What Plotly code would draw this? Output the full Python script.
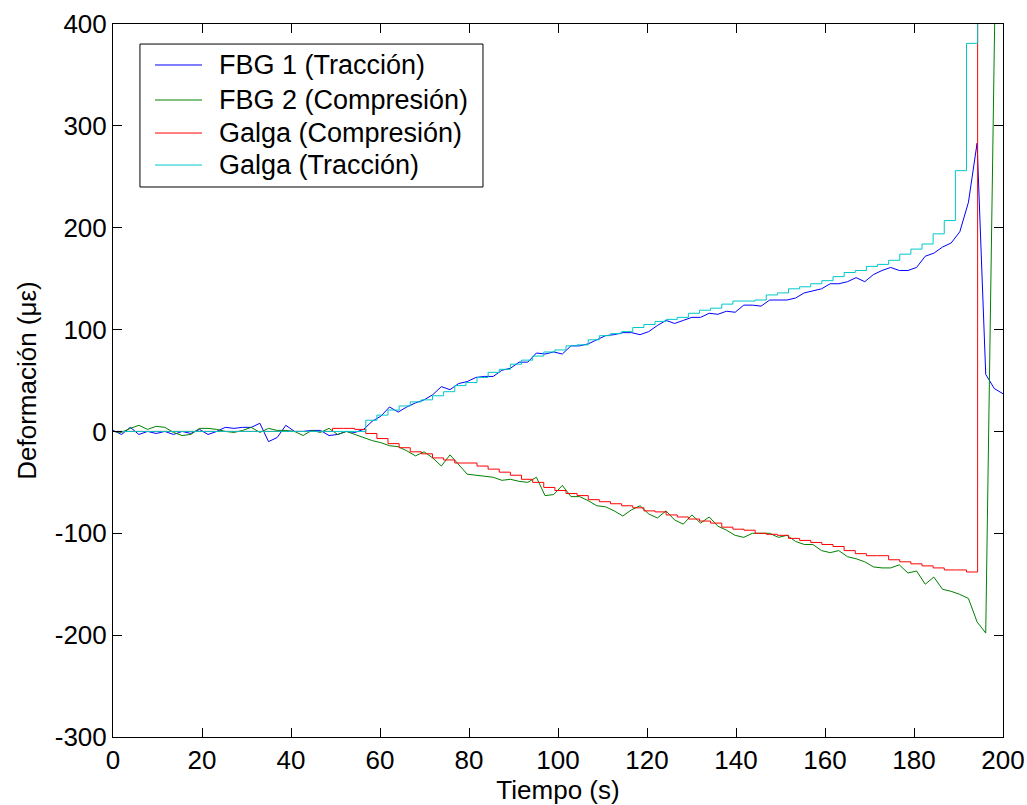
import numpy as np
import plotly.graph_objects as go

# FBG sampling grid (s)
fbg_t = np.linspace(0, 200, 104)

fbg1_traccion = [1, -3, 4, -3, 0, -2, 0, -3, 0, -2, 2, -3, 0, 4, 3, 4, 4, 8, -10, -6,
                 6, 0, 0, 1, 1, -4, -3, 0, -1, 2, 10, 15, 24, 19, 24, 28, 31, 36, 44, 41,
                 47, 49, 53, 54, 54, 60, 62, 68, 68, 77, 76, 78, 76, 84, 84, 86, 90, 94, 95, 97,
                 97, 95, 98, 104, 109, 106, 109, 112, 112, 116, 115, 118, 117, 124, 124, 123, 129, 129, 129, 131,
                 136, 138, 140, 145, 145, 147, 151, 147, 154, 158, 161, 158, 158, 161, 172, 175, 181, 185, 196, 225,
                 283, 56, 42, 37]

fbg2_compresion = [0, -1, 3, 6, 2, 5, 4, -1, -4, -3, 3, 3, 2, 0, -1, 1, 4, -1, 3, 1,
                   1, 0, -4, 1, -1, 3, -3, 0, -3, -6, -9, -11, -14, -15, -19, -24, -20, -26, -34, -23,
                   -32, -42, -43, -44, -45, -48, -47, -49, -50, -45, -63, -62, -53, -64, -64, -68, -73, -74, -78, -83,
                   -77, -73, -81, -85, -78, -87, -91, -82, -90, -84, -93, -97, -102, -104, -100, -100, -100, -104, -102, -108,
                   -111, -111, -117, -119, -117, -123, -125, -128, -133, -134, -134, -131, -139, -137, -150, -143, -155, -157, -160, -164,
                   -187, -198, 380, 960]

# Strain-gauge sampling grid (s)
galga_t = np.concatenate([[0.0], 1.8 + 2.5 * np.arange(80)])

galga_compresion = [0] + [0] * 19 + [3, 3, 2, -2, -7, -12, -16, -20, -22, -26,
                    -28, -31, -31, -34, -37, -40, -43, -47, -50, -55,
                    -58, -61, -63, -67, -69, -71, -73, -75, -78, -79,
                    -82, -84, -86, -88, -90, -94, -96, -97, -100, -101,
                    -102, -105, -107, -109, -111, -113, -117, -120, -122, -122,
                    -126, -128, -130, -132, -134, -136, -136, -138, 1200, 1200, 1200]

galga_traccion = [0] + [0] * 22 + [11, 16, 21, 25, 29, 31, 35, 39, 45, 48,
                  53, 58, 61, 66, 70, 74, 78, 80, 84, 85,
                  90, 94, 96, 98, 102, 105, 108, 110, 112, 116,
                  119, 121, 125, 128, 128, 129, 134, 136, 140, 142,
                  145, 148, 152, 156, 158, 162, 164, 168, 174, 179,
                  184, 194, 207, 256, 381, 1200, 1200, 1200]

x_ticks = [0, 20, 40, 60, 80, 100, 120, 140, 160, 180, 200]
x_ticktext = ["0", "20", "40", "60", "80", "100", "120", "140", "160", "180", "200"]
y_ticks = [-300, -200, -100, 0, 100, 200, 300, 400]
y_ticktext = ["-300", "-200", "-100", "0", "100", "200", "300", "400"]

names = ["FBG 1 (Tracción)", "FBG 2 (Compresión)", "Galga (Compresión)", "Galga (Tracción)"]
colors = ["#0000FF", "#008000", "#FF0000", "#00C8C8"]

fig = go.Figure()
fig.add_trace(go.Scatter(x=fbg_t, y=fbg1_traccion, mode="lines", name=names[0],
                         line=dict(color=colors[0], width=1)))
fig.add_trace(go.Scatter(x=fbg_t, y=fbg2_compresion, mode="lines", name=names[1],
                         line=dict(color=colors[1], width=1)))
fig.add_trace(go.Scatter(x=galga_t, y=galga_compresion, mode="lines", name=names[2],
                         line=dict(color=colors[2], width=1, shape="hv")))
fig.add_trace(go.Scatter(x=galga_t, y=galga_traccion, mode="lines", name=names[3],
                         line=dict(color=colors[3], width=1, shape="hv")))

FS = 26
axis_common = dict(showline=True, linecolor="black", linewidth=1, mirror="ticks",
                   ticks="inside", ticklen=9, tickcolor="black", showgrid=False,
                   zeroline=False, tickfont=dict(size=FS, color="black"),
                   tickmode="array", automargin=False)

fig.update_xaxes(range=[0, 200], tickvals=x_ticks, ticktext=x_ticktext,
                 title=dict(text="Tiempo (s)", font=dict(size=FS), standoff=4),
                 **axis_common)
fig.update_yaxes(range=[-300, 400], tickvals=y_ticks, ticktext=y_ticktext,
                 title=dict(text="Deformación (με)", font=dict(size=FS), standoff=10),
                 **axis_common)

# Legend box drawn in paper coordinates (MATLAB style)
shapes = [dict(type="rect", xref="paper", yref="paper", x0=0.0303, x1=0.4157,
               y0=0.7714, y1=0.9719, line=dict(color="black", width=1),
               fillcolor="white", layer="above")]
annotations = []
row_y = [0.9425, 0.8934, 0.8471, 0.8022]
for name, col, yy in zip(names, colors, row_y):
    shapes.append(dict(type="line", xref="paper", yref="paper", x0=0.0472, x1=0.100,
                       y0=yy, y1=yy, line=dict(color=col, width=1), layer="above"))
    annotations.append(dict(xref="paper", yref="paper", x=0.117, y=yy, text=name,
                            showarrow=False, xanchor="left", yanchor="middle",
                            font=dict(size=27, color="black")))

fig.update_layout(
    width=1027, height=805,
    margin=dict(l=113, r=24, t=24, b=68),
    plot_bgcolor="white", paper_bgcolor="white",
    font=dict(family="Liberation Sans, Arial, sans-serif", size=FS, color="black"),
    showlegend=False,
    shapes=shapes,
    annotations=annotations,
)

fig.write_html("out.html")
